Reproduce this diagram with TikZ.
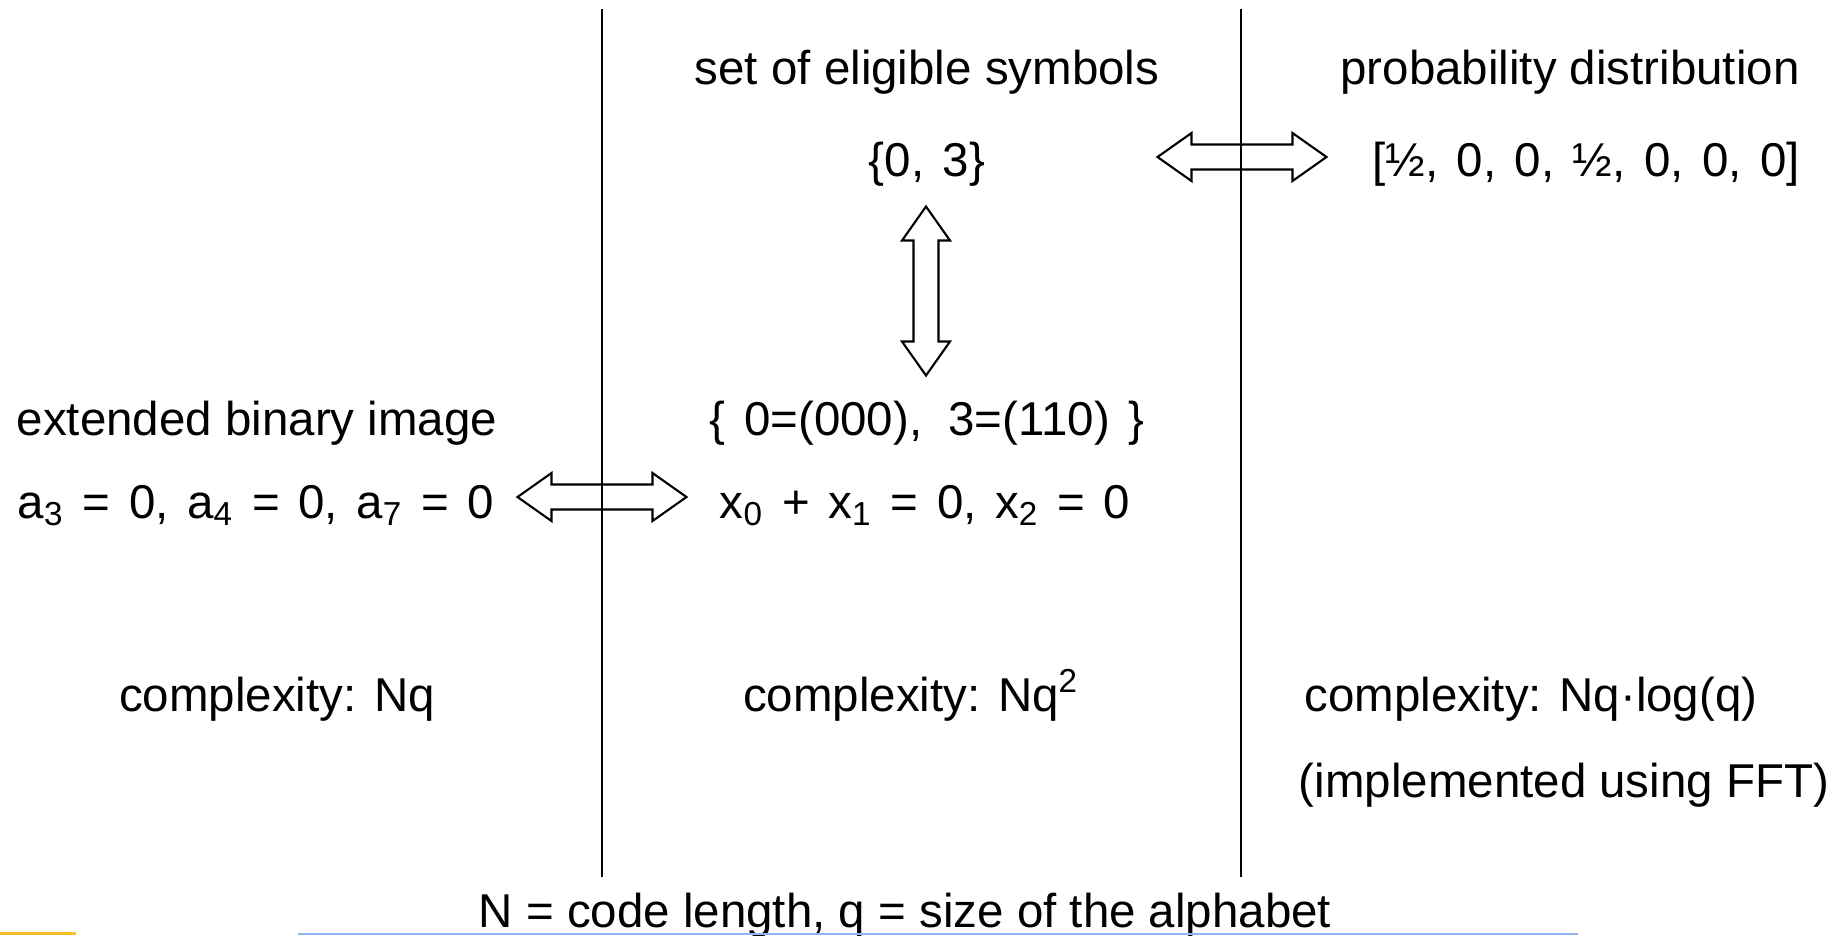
\documentclass[tikz,border=0pt]{standalone}
\usepackage{fontspec}
\setmainfont{Liberation Sans}
\newfontfamily\widefont[WordSpace=1.4]{Liberation Sans}
\usetikzlibrary{positioning}
\definecolor{bargold}{HTML}{F5BE28}
\definecolor{barblue}{HTML}{94B3F7}
\tikzset{
  txt/.style={anchor=base, inner sep=0pt, font=\fontsize{13.5}{16}\selectfont},
  wide/.style={txt, font=\widefont\fontsize{13.5}{16}\selectfont},
  sepline/.style={line width=0.7pt},
  % hollow double-headed block arrow, 169 long, 48 wide at the heads
  pics/dblarr/.style={code={
    \draw[line width=0.6pt, fill=white]
      (-84.5,0) -- (-50.5,-24) -- (-50.5,-12.5) -- (50.5,-12.5) -- (50.5,-24)
      -- (84.5,0) -- (50.5,24) -- (50.5,12.5) -- (-50.5,12.5) -- (-50.5,24) -- cycle;
  }}
}
\begin{document}
\begin{tikzpicture}[x=0.01cm, y=-0.01cm]
  \useasboundingbox (0,0) rectangle (1845,935);
  % block arrows
  \pic (a1) at (1242,157) {dblarr};
  \pic[rotate=90] (a2) at (926,291) {dblarr};
  \pic (a3) at (602,497) {dblarr};
  % column separators
  \draw[sepline] (602,9) -- (602,877);
  \draw[sepline] (1241,9) -- (1241,877);
  % middle column
  \node[txt] (elig) at (927,84) {set of eligible symbols};
  \node[wide] (set) at (927,176) {\{0, 3\}};
  \node[txt] (bits) at (927,435) {\{\hspace{0.4em}0=(000),\hspace{0.55em}3=(110)\hspace{0.4em}\}};
  \node[wide] (xeq) at (925,518) {x\textsubscript{0} + x\textsubscript{1} = 0, x\textsubscript{2} = 0};
  \node[txt] (cmid) at (911,711) {complexity: Nq\textsuperscript{2}};
  % right column
  \node[txt] (prob) at (1570,84) {probability distribution};
  \node[wide] (dist) at (1586,176) {[½, 0, 0, ½, 0, 0, 0]};
  \node[txt] (cright) at (1531,711) {complexity: Nq·log(q)};
  \node[txt] (fft) at (1564,797) {(implemented using FFT)};
  % left column
  \node[txt] (ext) at (257,435) {extended binary image};
  \node[wide] (aeq) at (256,518) {a\textsubscript{3} = 0, a\textsubscript{4} = 0, a\textsubscript{7} = 0};
  \node[txt] (cleft) at (277,711) {complexity: Nq};
  \node[txt] (legend) at (905,927) {N = code length, q = size of the alphabet};
  % bottom bars
  \fill[bargold] (0,932) rectangle (76,935);
  \fill[barblue] (298,933) rectangle (1578,935);
\end{tikzpicture}
\end{document}
